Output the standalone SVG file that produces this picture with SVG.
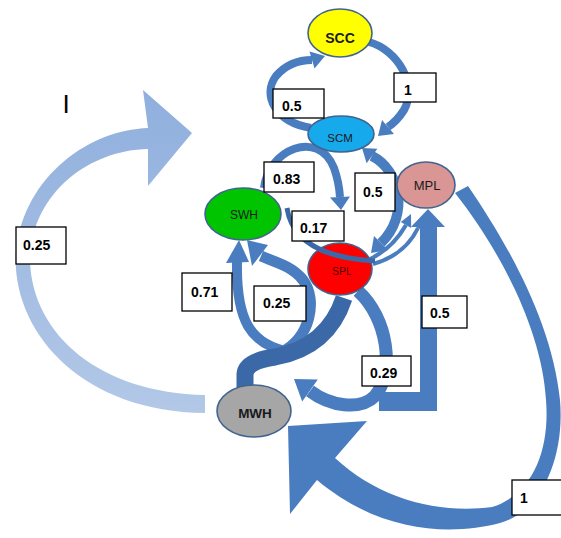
<svg xmlns="http://www.w3.org/2000/svg" width="561" height="538" viewBox="0 0 561 538">
<defs>
<linearGradient id="lightG" x1="0" y1="0" x2="0" y2="1">
<stop offset="0" stop-color="#8FAFDD"/>
<stop offset="1" stop-color="#B3C8E7"/>
</linearGradient>
</defs>
<style>
.shaft{fill:none;stroke:#4A7DC0;stroke-linecap:butt}
.dark{fill:none;stroke:#3B69A8;stroke-linecap:butt}
.head{fill:#4A7DC0}
.node{stroke:#41648F;stroke-width:1.6}
.lbl{fill:#fff;stroke:#000;stroke-width:1.3}
.lt{font-family:"Liberation Sans",Arial,sans-serif;font-weight:bold;font-size:14px;fill:#000}
.nt{font-family:"Liberation Sans",Arial,sans-serif;text-anchor:middle;fill:#1a1a1a}
</style>
<rect width="561" height="538" fill="#fff"/>
<text x="62.5" y="113" font-family="Liberation Sans, Arial, sans-serif" font-size="26" fill="#000">I</text>
<g id="connectors">
  <path id="e-mwh-loop" fill="url(#lightG)" d="M 205,395 C 100,393 33,335 30,262 C 30,195 88,150 148,149 L 148,186 L 192,133 L 143,90 L 148,128 C 90,130 25,175 16,250 C 10,330 80,412 205,413 Z"/>
  <path id="e-mpl-mwh" class="head" d="M 468,186 C 505,240 552,320 560,400 C 565,460 540,512 500,523 C 450,536 380,533 317,480 L 290,514 L 288,426 L 367,421 L 335,458 C 380,500 440,514 492,507 C 533,494 550,450 546,400 C 542,330 500,250 455,193 Z"/>
  <g id="e-scc-scm">
    <path class="shaft" stroke-width="8" d="M 369,42 C 398,50 418,85 404,110 Q 397,121 388,127"/>
    <polygon class="head" points="378,136 394,134 382,120"/>
  </g>
  <g id="e-scm-scc">
    <path class="shaft" stroke-width="8" d="M 311,128 C 275,122 262,95 276,76 Q 290,60 312,60"/>
    <polygon class="head" points="325,56 314.5,68.6 309.5,51.4"/>
  </g>
  <g id="e-swh-spl">
    <path class="shaft" stroke-width="8" d="M 264,188 C 268,150 318,128 334,168 Q 339,182 340,197"/>
    <polygon class="head" points="341,210 350,196.5 330,197.5"/>
  </g>
  <g id="e-scm-spl">
    <path class="shaft" stroke-width="10" d="M 372,156 C 400,170 410,215 381,243"/>
    <polygon class="head" points="362,148 366.6,163.2 377.4,148.8"/>
    <polygon class="head" points="371,253 388,250 374,236"/>
  </g>
  <g id="e-spl-mpl">
    <path class="shaft" stroke-width="4" d="M 370,259 Q 393,248 406,225"/>
    <polygon class="head" points="411,214 411.2,227.9 400.8,222.1"/>
    <path class="shaft" stroke-width="4" d="M 373,264 Q 405,255 418,228"/>
    <polygon class="head" points="422,217 423.4,230.6 412.6,225.4"/>
  </g>
  <polygon id="e-l-mpl" class="head" points="379,392 420,392 420,227 411,227 428,209 445,227 437,227 437,411 379,411"/>
  <g id="e-spl-swh">
    <path class="shaft" stroke-width="10" d="M 290,352 C 250,345 236,320 237,262"/>
    <polygon class="head" points="239,240 226,263 249,262"/>
    <path class="shaft" stroke-width="11" d="M 282,352 C 310,338 318,300 303,280 C 292,266 275,262 261,256"/>
    <polygon class="head" points="247,240 252,266 268,245"/>
  </g>
  <path id="e-mwh-spl" class="dark" stroke-width="17" d="M 245,392 L 245,374 Q 246,361 275,357 Q 328,347 344,298"/>
  <g id="e-spl-mwh">
    <path class="shaft" stroke-width="13" d="M 358,291 C 388,318 395,372 375,396 C 360,411 330,406 310,391"/>
    <polygon class="head" points="294,379 317.8,379.6 302.2,401.4"/>
  </g>
</g>
<g id="n-scc"><ellipse class="node" cx="340" cy="33" rx="32" ry="24" fill="#FFFF00"/><text class="nt" x="340" y="43" font-size="14" font-weight="bold">SCC</text></g>
<g id="n-scm"><ellipse class="node" cx="341" cy="134" rx="33" ry="18" fill="#16A9EC"/><text class="nt" x="340" y="142" font-size="11.5">SCM</text></g>
<g id="n-mpl"><ellipse class="node" cx="426" cy="185" rx="29" ry="23" fill="#D99694"/><text class="nt" x="427" y="190" font-size="13">MPL</text></g>
<g id="n-swh"><ellipse class="node" cx="243" cy="214" rx="38" ry="26" fill="#00C400"/><text class="nt" x="244" y="219" font-size="12">SWH</text></g>
<g id="n-spl"><ellipse class="node" cx="340" cy="269" rx="32" ry="26" fill="#FF0000"/><text class="nt" x="342" y="275" font-size="10.5" style="fill:#4d0000">SPL</text></g>
<g id="n-mwh"><ellipse class="node" cx="254" cy="411" rx="37" ry="26" fill="#A6A6A6"/><text class="nt" x="255" y="418" font-size="13.5" font-weight="bold">MWH</text></g>
<g id="connectors-over">
  <path id="e-swh-spl-017" class="dark" stroke-width="5" d="M 287,208 C 292,240 320,258 375,261"/>
</g>
<g id="labels">
  <rect class="lbl" x="273" y="89" width="51" height="29"/><text class="lt" x="282" y="111">0.5</text>
  <rect class="lbl" x="394" y="73" width="42" height="29"/><text class="lt" x="404" y="95">1</text>
  <rect class="lbl" x="264" y="162" width="50" height="30"/><text class="lt" x="273" y="184">0.83</text>
  <rect class="lbl" x="355" y="173" width="40" height="38"/><text class="lt" x="363" y="197">0.5</text>
  <rect class="lbl" x="292" y="211" width="52" height="30"/><text class="lt" x="300" y="233">0.17</text>
  <rect class="lbl" x="182" y="273" width="50" height="38"/><text class="lt" x="191" y="297">0.71</text>
  <rect class="lbl" x="254" y="286" width="52" height="35"/><text class="lt" x="263" y="308">0.25</text>
  <rect class="lbl" x="362" y="356" width="49" height="30"/><text class="lt" x="370" y="378">0.29</text>
  <rect class="lbl" x="422" y="296" width="45" height="32"/><text class="lt" x="430" y="318">0.5</text>
  <rect class="lbl" x="16" y="227" width="50" height="37"/><text class="lt" x="23" y="250">0.25</text>
  <rect class="lbl" x="512" y="480" width="50" height="35"/><text class="lt" x="520" y="503">1</text>
</g>
</svg>
